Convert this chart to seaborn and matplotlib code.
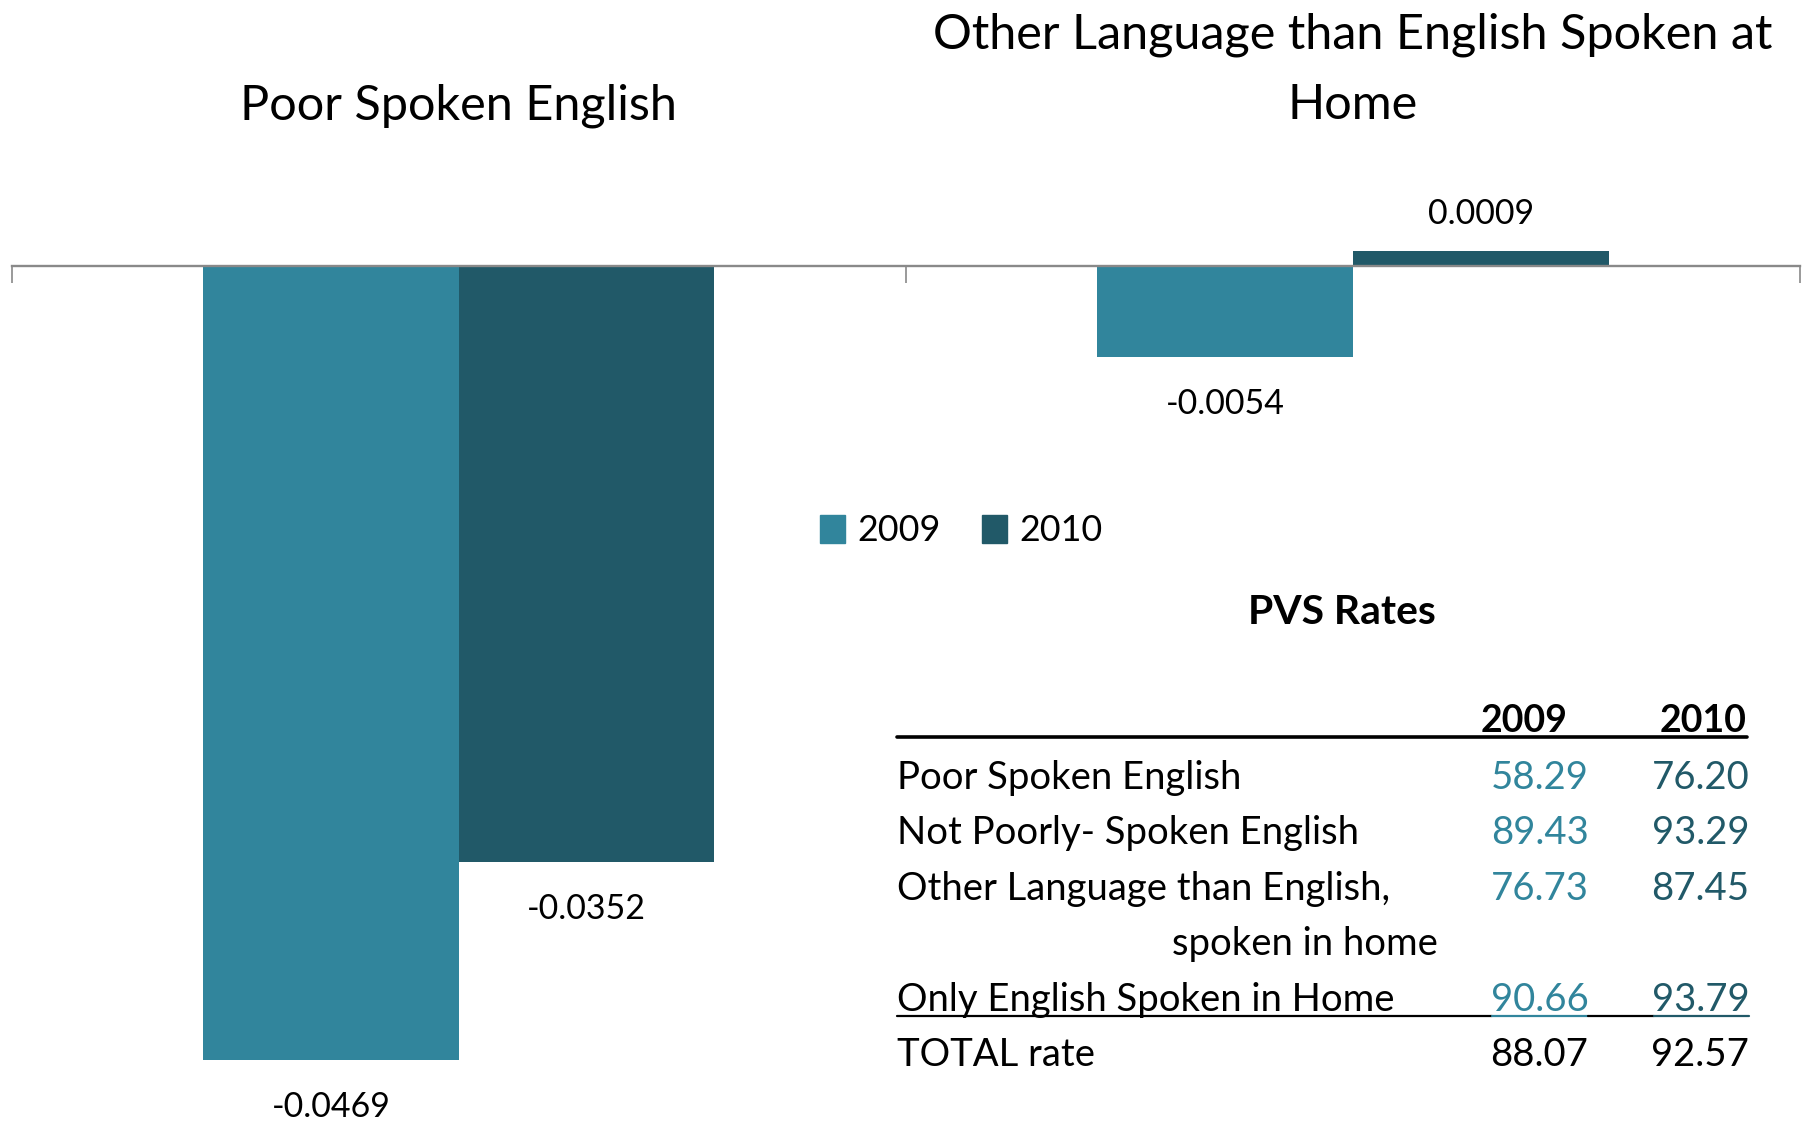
import numpy as np
import pandas as pd
import matplotlib
matplotlib.use("Agg")
import matplotlib.pyplot as plt
from matplotlib.lines import Line2D
import seaborn as sns

# chart data
categories = ["Poor Spoken English", "Other Language than English Spoken at\nHome"]
years = ["2009", "2010"]
change_2009 = [-0.0469, -0.0054]
change_2010 = [-0.0352, 0.0009]

# PVS rates table
table_title = "PVS Rates"
row_labels = ["Poor Spoken English", "Not Poorly- Spoken English",
              "Other Language than English,", "Only English Spoken in Home", "TOTAL rate"]
rate_2009 = ["58.29", "89.43", "76.73", "90.66", "88.07"]
rate_2010 = ["76.20", "93.29", "87.45", "93.79", "92.57"]

C09 = "#31859C"
C10 = "#215968"
AXIS = "#898989"

sns.set_theme(style="white")
plt.rcParams['font.family'] = ['Lato', 'DejaVu Sans']
plt.rcParams['text.color'] = 'black'

df = pd.DataFrame({
    "category": categories * 2,
    "year": [years[0]] * 2 + [years[1]] * 2,
    "value": change_2009 + change_2010,
})

W, H = 1568, 972  # working coords (shrunk reference)


def fx(x):
    return x / W


def fy(y):
    return 1 - y / H


fig = plt.figure(figsize=(18.14, 11.24), dpi=100)
ax = fig.add_axes([fx(10), 0, fx(1546), 1])
sns.barplot(data=df, x="category", y="value", hue="year", order=categories,
            hue_order=years, palette=[C09, C10], width=0.572, gap=0,
            ax=ax, legend=False, saturation=1, linewidth=0)

scale = 14650
ax.set_ylim(-(H - 230) / scale, 230 / scale)
ax.set_xlim(-0.5, 1.5)
for s in ["top", "left", "right"]:
    ax.spines[s].set_visible(False)
ax.spines["bottom"].set_position(("data", 0))
ax.spines["bottom"].set_color(AXIS)
ax.spines["bottom"].set_linewidth(1.7)
ax.set_xticks([-0.5, 0.5, 1.5])
ax.set_xticklabels([])
ax.tick_params(axis="x", direction="out", length=12.5, width=1.2, color=AXIS, bottom=True)
ax.set_yticks([])
ax.set_xlabel("")
ax.set_ylabel("")
ax.patch.set_alpha(0)

# value labels: further out below negative bars, closer above positive ones
for cont in ax.containers:
    vals = [b.get_height() for b in cont]
    ax.bar_label(cont, labels=[f"{v:.4f}" if v < 0 else "" for v in vals],
                 padding=22, fontsize=24.5, color="black")
    ax.bar_label(cont, labels=[f"{v:.4f}" if v >= 0 else "" for v in vals],
                 padding=15, fontsize=24.5, color="black")

# category titles above the plot
ax.text(0, fy(103), categories[0], transform=ax.get_xaxis_transform(),
        ha="center", va="baseline", fontsize=35)
ax.text(1, fy(103), categories[1], transform=ax.get_xaxis_transform(),
        ha="center", va="baseline", fontsize=35, linespacing=1.73)

# legend
handles = [plt.Rectangle((0, 0), 1, 1, color=c) for c in (C09, C10)]
fig.legend(handles, years, loc="center", bbox_to_anchor=(fx(831), fy(459)),
           ncol=2, frameon=False, fontsize=25.8, handlelength=0.7, handleheight=0.8,
           handletextpad=0.35, columnspacing=1.15)

# table
fs = 27.5
fig.text(fx(1160), fy(540), table_title, ha="center", va="baseline",
         fontsize=29.4, fontweight="bold")
fig.text(fx(1355), fy(633), years[0], ha="right", va="baseline", fontsize=27, fontweight="bold")
fig.text(fx(1510), fy(633), years[1], ha="right", va="baseline", fontsize=27, fontweight="bold")
fig.add_artist(Line2D([fx(775), fx(1510)], [fy(637), fy(637)], color="black",
                      lw=2.6, transform=fig.transFigure))

baselines = [682, 730, 778, 874, 922]
for i, (lab, a, b) in enumerate(zip(row_labels, rate_2009, rate_2010)):
    yb = fy(baselines[i])
    last = i == len(row_labels) - 1
    fig.text(fx(775), yb, lab, ha="left", va="baseline", fontsize=fs)
    fig.text(fx(1373), yb, a, ha="right", va="baseline", fontsize=fs,
             color="black" if last else C09)
    fig.text(fx(1512), yb, b, ha="right", va="baseline", fontsize=fs,
             color="black" if last else C10)
fig.text(fx(1243), fy(826), "spoken in home", ha="right", va="baseline", fontsize=fs)

# underline under the "Only English" row
uy = fy(879)
for x0, x1, c in [(775, 1290, "black"), (1290, 1373, C09),
                  (1373, 1430, "black"), (1430, 1512, C10)]:
    fig.add_artist(Line2D([fx(x0), fx(x1)], [uy, uy], color=c, lw=1.6,
                          transform=fig.transFigure))

fig.savefig("out.png", dpi=100)
